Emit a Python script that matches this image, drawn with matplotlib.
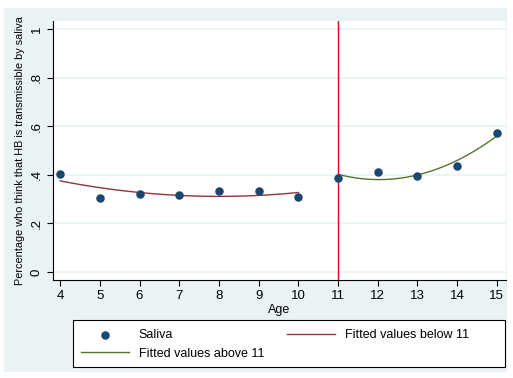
import numpy as np
import matplotlib.pyplot as plt
from matplotlib.patches import Rectangle

plt.rcParams['font.family'] = ['Liberation Sans', 'DejaVu Sans']

age = [4, 5, 6, 7, 8, 9, 10, 11, 12, 13, 14, 15]
saliva = [0.405, 0.303, 0.322, 0.315, 0.333, 0.333, 0.307,
          0.388, 0.410, 0.394, 0.437, 0.572]
cutoff = 11
yticks = [0, 0.2, 0.4, 0.6, 0.8, 1.0]
ytick_labels = ['0', '.2', '.4', '.6', '.8', '1']

age = np.array(age)
saliva = np.array(saliva)

# quadratic fits either side of the cutoff
below = age < cutoff
above = age >= cutoff
cb = np.polyfit(age[below], saliva[below], 2)
ca = np.polyfit(age[above], saliva[above], 2)
xb = np.linspace(age[below].min(), age[below].max(), 100)
xa = np.linspace(age[above].min(), age[above].max(), 100)

W, H = 513, 378
fig = plt.figure(figsize=(W / 100, H / 100), dpi=100)
fig.patch.set_facecolor('white')
fig.patches.append(Rectangle((4 / W, 1 - 372 / H), 503 / W, 364 / H,
                             transform=fig.transFigure, facecolor='#eaf2f3',
                             edgecolor='none', zorder=-10))
# legend box
fig.patches.append(Rectangle((73 / W, 1 - 367 / H), 432 / W, 47 / H,
                             transform=fig.transFigure, facecolor='white',
                             edgecolor='black', lw=0.8, zorder=1))

ax = fig.add_axes([53 / W, 1 - 280 / H, 453 / W, 259 / H])
ax.set_facecolor('white')

for y in yticks:
    ax.axhline(y, color='#eaf2f3', lw=1.2, zorder=0)

ax.axvline(cutoff, color='#e8001c', lw=1.0, zorder=1)
ax.plot(xb, np.polyval(cb, xb), color='#90353b', lw=1.0, label='Fitted values below 11', zorder=2)
ax.plot(xa, np.polyval(ca, xa), color='#55752f', lw=1.0, label='Fitted values above 11', zorder=2)
ax.scatter(age, saliva, s=26, color='#1a476f', label='Saliva', zorder=3)

ax.set_xlim(3.82, 15.23)
ax.set_ylim(-0.033, 1.033)
ax.set_xticks(age)
ax.set_yticks(yticks)
ax.set_yticklabels(ytick_labels, rotation=90, va='center')
ax.tick_params(labelsize=9.5, length=4, width=0.8, direction='out')
ax.spines['top'].set_visible(False)
ax.spines['right'].set_visible(False)
ax.set_xlabel('Age', fontsize=9, labelpad=1)
ax.set_ylabel('Percentage who think that HB is transmissible by saliva', fontsize=7.8, labelpad=4)

h, l = ax.get_legend_handles_labels()
# column-first fill: Saliva / above in column 1, below in column 2
order = [2, 1, 0]
leg = fig.legend([h[i] for i in order], [l[i] for i in order], ncol=2,
                 loc='upper left', bbox_to_anchor=(73 / W, 1 - 322 / H),
                 borderaxespad=0, fontsize=9, frameon=False,
                 handlelength=3.9, handletextpad=0.75, borderpad=0.6,
                 labelspacing=0.5, columnspacing=1.8)
leg.set_zorder(5)

plt.savefig('out.png', dpi=100, facecolor=fig.get_facecolor())
